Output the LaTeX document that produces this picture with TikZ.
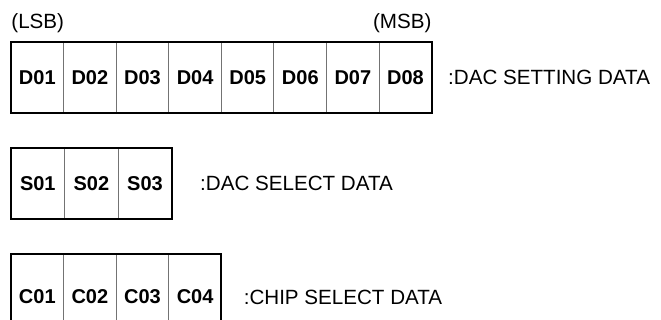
\documentclass[tikz,border=0pt]{standalone}
\usepackage{fontspec}
\setmainfont{Liberation Sans}
\usetikzlibrary{positioning}

\begin{document}
\begin{tikzpicture}[x=0.5pt,y=-0.5pt,node distance=0pt,
  cell/.style={draw=black!55,line width=0.5pt,inner sep=0pt,outer sep=0pt,
    minimum width=26.3pt,minimum height=35.5pt,font=\fontsize{10}{12}\selectfont\bfseries},
  tallcell/.style={cell,minimum height=43pt},
  frame/.style={draw,line width=1pt},
  label/.style={inner sep=0pt,font=\fontsize{10.3}{12}\selectfont}]

  \useasboundingbox (0,0) rectangle (661,320);

  % dac setting data
  \node[cell] (D01) at (37.3,77.5) {D01};
  \node[cell] (D02) [right=of D01] {D02};
  \node[cell] (D03) [right=of D02] {D03};
  \node[cell] (D04) [right=of D03] {D04};
  \node[cell] (D05) [right=of D04] {D05};
  \node[cell] (D06) [right=of D05] {D06};
  \node[cell] (D07) [right=of D06] {D07};
  \node[cell] (D08) [right=of D07] {D08};
  \draw[frame] (D01.north west) rectangle (D08.south east);
  \node[label,anchor=south west] (lsb) at ([yshift=4.5pt]D01.north west) {(LSB)};
  \node[label,anchor=south east] (msb) at ([yshift=4.5pt]D08.north east) {(MSB)};
  \node[label] (setting) [right=8pt of D08] {:DAC SETTING DATA};

  % dac select data
  \node[cell,minimum width=26.8pt] (S01) at (37.8,183.5) {S01};
  \node[cell,minimum width=26.8pt] (S02) [right=of S01] {S02};
  \node[cell,minimum width=26.8pt] (S03) [right=of S02] {S03};
  \draw[frame] (S01.north west) rectangle (S03.south east);
  \node[label] (select) [right=14pt of S03] {:DAC SELECT DATA};

  % chip select data
  \node[tallcell] (C01) at (37.3,297) {C01};
  \node[tallcell] (C02) [right=of C01] {C02};
  \node[tallcell] (C03) [right=of C02] {C03};
  \node[tallcell] (C04) [right=of C03] {C04};
  \draw[frame] (C01.north west) rectangle (C04.south east);
  \node[label] (chip) [right=11pt of C04] {:CHIP SELECT DATA};
\end{tikzpicture}
\end{document}
